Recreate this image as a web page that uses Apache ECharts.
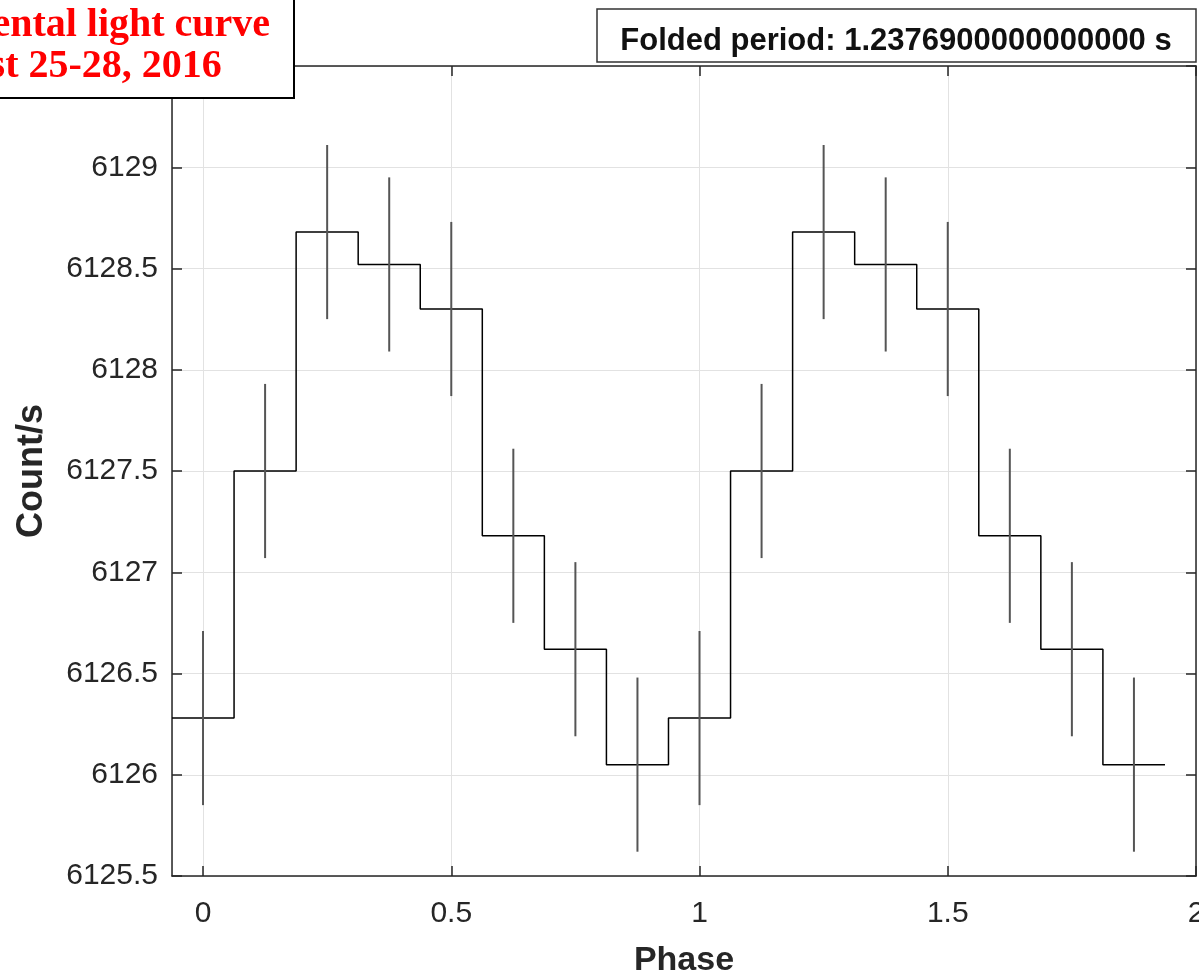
<!DOCTYPE html>
<html>
<head>
<meta charset="utf-8">
<title>Folded light curve</title>
<script src="https://cdn.jsdelivr.net/npm/echarts@6.0.0/dist/echarts.min.js"></script>
<style>
  html, body { margin: 0; padding: 0; background: #fff; overflow: hidden; }
  #chart { width: 1199px; height: 976px; }
</style>
</head>
<body>
<div id="chart"></div>
<script>
// Phase bin centres (two cycles of the folded curve)
const phase = [0, 0.125, 0.25, 0.375, 0.5, 0.625, 0.75, 0.875,
               1, 1.125, 1.25, 1.375, 1.5, 1.625, 1.75, 1.875];
// Mean count rate in each phase bin
const countRate = [6126.28, 6127.50, 6128.68, 6128.52, 6128.30, 6127.18, 6126.62, 6126.05,
                   6126.28, 6127.50, 6128.68, 6128.52, 6128.30, 6127.18, 6126.62, 6126.05];
// 1-sigma uncertainty of each bin
const countErr = [0.43, 0.43, 0.43, 0.43, 0.43, 0.43, 0.43, 0.43,
                  0.43, 0.43, 0.43, 0.43, 0.43, 0.43, 0.43, 0.43];
const binWidth = 0.125;

const titleLines = ['Fundamental light curve', 'August 25-28, 2016'];
const periodText = 'Folded period: 1.2376900000000000 s';

// Histogram-style outline: each bin contributes its left and right edge
const stepData = [];
phase.forEach(function (p, i) {
  stepData.push([p - binWidth / 2, countRate[i]]);
  stepData.push([p + binWidth / 2, countRate[i]]);
});
const errData = phase.map(function (p, i) {
  return [p, countRate[i] - countErr[i], countRate[i] + countErr[i]];
});

const axisColor = '#262626';
const font = '"Liberation Sans", Arial, Helvetica, sans-serif';
const plainNumber = function (v) { return String(v); };

function frameAxis(extra) {
  return Object.assign({
    type: 'value',
    axisLine: { show: true, onZero: false, lineStyle: { color: axisColor, width: 1.5 } },
    axisTick: { show: true, inside: true, length: 10, lineStyle: { color: axisColor, width: 1.5 } },
    splitLine: { show: false },
    axisLabel: { show: false }
  }, extra);
}

const xRange = { min: -0.0625, max: 2, splitNumber: 4, minInterval: 0.5, maxInterval: 0.5 };
const yRange = { min: 6125.5, max: 6129.5, interval: 0.5 };

const chart = echarts.init(document.getElementById('chart'), null, { renderer: 'canvas' });
chart.setOption({
  animation: false,
  backgroundColor: '#fff',
  grid: { left: 172, right: 3, top: 66, bottom: 100, containLabel: false, outerBoundsMode: 'none' },
  xAxis: [
    frameAxis(Object.assign({}, xRange, {
      position: 'bottom',
      name: 'Phase',
      nameLocation: 'middle',
      nameGap: 68,
      nameTextStyle: { fontSize: 34, fontWeight: 'bold', color: axisColor, fontFamily: font },
      axisLabel: { show: true, showMinLabel: false, fontSize: 30, color: axisColor, fontFamily: font, margin: 23, formatter: plainNumber },
      splitLine: { show: true, lineStyle: { color: '#e2e2e2', width: 1 } }
    })),
    frameAxis(Object.assign({}, xRange, { position: 'top' }))
  ],
  yAxis: [
    frameAxis(Object.assign({}, yRange, {
      position: 'left',
      name: 'Count/s',
      nameLocation: 'middle',
      nameGap: 122,
      nameTextStyle: { fontSize: 36, fontWeight: 'bold', color: axisColor, fontFamily: font },
      axisLabel: { show: true, showMaxLabel: false, fontSize: 30, color: axisColor, fontFamily: font, margin: 14, formatter: plainNumber },
      splitLine: { show: true, lineStyle: { color: '#e2e2e2', width: 1 } }
    })),
    frameAxis(Object.assign({}, yRange, { position: 'right' }))
  ],
  series: [
    {
      type: 'line',
      data: stepData,
      xAxisIndex: 0,
      yAxisIndex: 0,
      symbol: 'none',
      lineStyle: { color: '#000', width: 1.5 },
      z: 3
    },
    {
      type: 'custom',
      data: errData,
      xAxisIndex: 0,
      yAxisIndex: 0,
      encode: { x: 0, y: [1, 2] },
      z: 4,
      renderItem: function (params, api) {
        const lo = api.coord([api.value(0), api.value(1)]);
        const hi = api.coord([api.value(0), api.value(2)]);
        return {
          type: 'line',
          shape: { x1: lo[0], y1: lo[1], x2: hi[0], y2: hi[1] },
          style: { stroke: '#555', lineWidth: 2 }
        };
      }
    }
  ],
  graphic: [
    {
      type: 'rect',
      z: 100,
      shape: { x: -10, y: -10, width: 304, height: 108 },
      style: { fill: '#fff', stroke: '#000', lineWidth: 2 }
    },
    {
      type: 'text',
      z: 101,
      style: {
        text: titleLines.join('\n'),
        x: 59,
        y: 46,
        align: 'center',
        verticalAlign: 'middle',
        lineHeight: 41,
        font: 'bold 40px "Liberation Serif", "Times New Roman", serif',
        fill: '#ff0000'
      }
    },
    {
      type: 'rect',
      z: 100,
      shape: { x: 597, y: 9, width: 599, height: 53 },
      style: { fill: '#fff', stroke: '#333', lineWidth: 1.5 }
    },
    {
      type: 'text',
      z: 101,
      style: {
        text: periodText,
        x: 896,
        y: 41,
        align: 'center',
        verticalAlign: 'middle',
        font: 'bold 31px ' + font,
        fill: '#111'
      }
    }
  ]
});
</script>
</body>
</html>
